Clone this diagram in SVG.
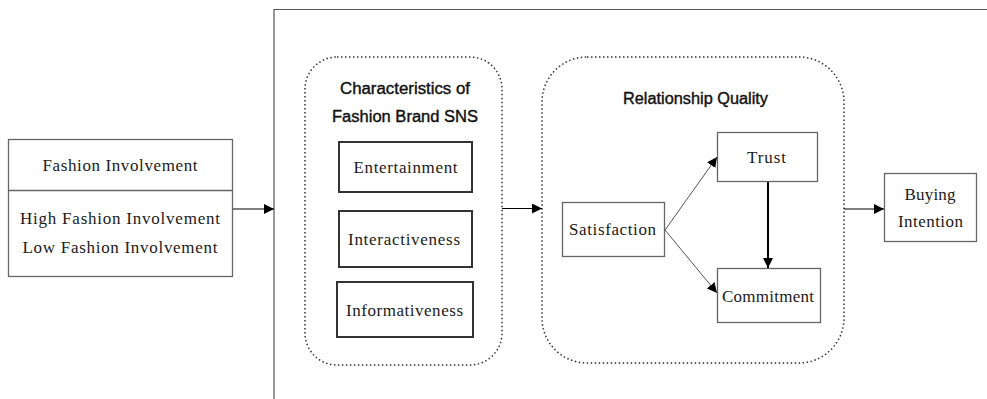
<svg xmlns="http://www.w3.org/2000/svg" width="987" height="399" viewBox="0 0 987 399">
  <defs>
    <marker id="arrow" viewBox="0 0 10 10" refX="10" refY="5" markerWidth="10" markerHeight="10" markerUnits="userSpaceOnUse" orient="auto">
      <path d="M0,0 L10,5 L0,10 Z" fill="#000"/>
    </marker>
  </defs>
  <style>
    .box { fill: #fff; stroke: #666; stroke-width: 1.3; }
    .dark { fill: #fff; stroke: #333; stroke-width: 2; }
    .group { fill: none; stroke: #333; stroke-width: 1.5; stroke-dasharray: 1.5 2.5; }
    .frame { fill: none; stroke: #555; stroke-width: 1.2; }
    .serif { font-family: "Liberation Serif", "DejaVu Serif", serif; font-size: 17px; fill: #1a1a1a; text-anchor: middle; }
    .title { font-family: "Liberation Sans", "DejaVu Sans", sans-serif; font-size: 16px; fill: #111; text-anchor: middle; stroke: #111; stroke-width: 0.4; }
    .edge { fill: none; stroke: #000; stroke-width: 1.1; }
    .thin { fill: none; stroke: #555; stroke-width: 1; }
    .thick { fill: none; stroke: #000; stroke-width: 2; }
  </style>

  <!-- outer frame around the model -->
  <path class="frame" d="M274,399 L274,9.5 L987,9.5"/>

  <g id="fashion-involvement">
    <rect class="box" x="8.5" y="139.5" width="224" height="137"/>
    <line class="box" x1="8.5" y1="190.5" x2="232.5" y2="190.5"/>
    <text class="serif" x="120" y="171" textLength="155" lengthAdjust="spacing">Fashion Involvement</text>
    <text class="serif" x="120" y="224" textLength="200" lengthAdjust="spacing">High Fashion Involvement</text>
    <text class="serif" x="120" y="253" textLength="195" lengthAdjust="spacing">Low Fashion Involvement</text>
  </g>

  <g id="sns-characteristics">
    <rect class="group" x="305" y="57" width="197" height="308" rx="32" ry="32"/>
    <text class="title" x="405" y="94" textLength="130" lengthAdjust="spacingAndGlyphs">Characteristics of</text>
    <text class="title" x="405" y="122" textLength="146" lengthAdjust="spacingAndGlyphs">Fashion Brand SNS</text>
  </g>
  <g id="entertainment">
    <rect class="dark" x="339" y="142" width="133" height="50"/>
    <text class="serif" x="405.5" y="173" textLength="104" lengthAdjust="spacing">Entertainment</text>
  </g>
  <g id="interactiveness">
    <rect class="dark" x="339" y="211" width="133" height="56"/>
    <text class="serif" x="404" y="245" textLength="112" lengthAdjust="spacing">Interactiveness</text>
  </g>
  <g id="informativeness">
    <rect class="dark" x="337" y="282" width="136" height="55"/>
    <text class="serif" x="404.5" y="316" textLength="117" lengthAdjust="spacing">Informativeness</text>
  </g>

  <g id="relationship-quality">
    <rect class="group" x="542" y="57" width="302" height="306" rx="45" ry="45"/>
    <text class="title" x="695.5" y="104" textLength="145" lengthAdjust="spacingAndGlyphs">Relationship Quality</text>
  </g>
  <g id="satisfaction">
    <rect class="box" x="562.5" y="202.5" width="102" height="54"/>
    <text class="serif" x="612.5" y="235" textLength="87" lengthAdjust="spacing">Satisfaction</text>
  </g>
  <g id="trust">
    <rect class="box" x="717.5" y="132.5" width="100" height="49"/>
    <text class="serif" x="766.5" y="163" textLength="39" lengthAdjust="spacing">Trust</text>
  </g>
  <g id="commitment">
    <rect class="box" x="717.5" y="268.5" width="103" height="54"/>
    <text class="serif" x="768" y="302" textLength="92" lengthAdjust="spacing">Commitment</text>
  </g>

  <g id="buying-intention">
    <rect class="box" x="884.5" y="173.5" width="92" height="68"/>
    <text class="serif" x="930" y="200" textLength="51" lengthAdjust="spacing">Buying</text>
    <text class="serif" x="930.5" y="227" textLength="65" lengthAdjust="spacing">Intention</text>
  </g>

  <g id="connectors">
    <line class="edge" x1="233" y1="209" x2="274" y2="209" marker-end="url(#arrow)"/>
    <line class="edge" x1="502" y1="208.5" x2="542" y2="208.5" marker-end="url(#arrow)"/>
    <line class="edge" x1="844" y1="209" x2="884" y2="209" marker-end="url(#arrow)"/>
    <line class="thin" x1="665" y1="230" x2="717" y2="157" marker-end="url(#arrow)"/>
    <line class="thin" x1="665" y1="230" x2="717" y2="293" marker-end="url(#arrow)"/>
    <line class="thick" x1="768" y1="182" x2="768" y2="268" marker-end="url(#arrow)"/>
  </g>
</svg>
